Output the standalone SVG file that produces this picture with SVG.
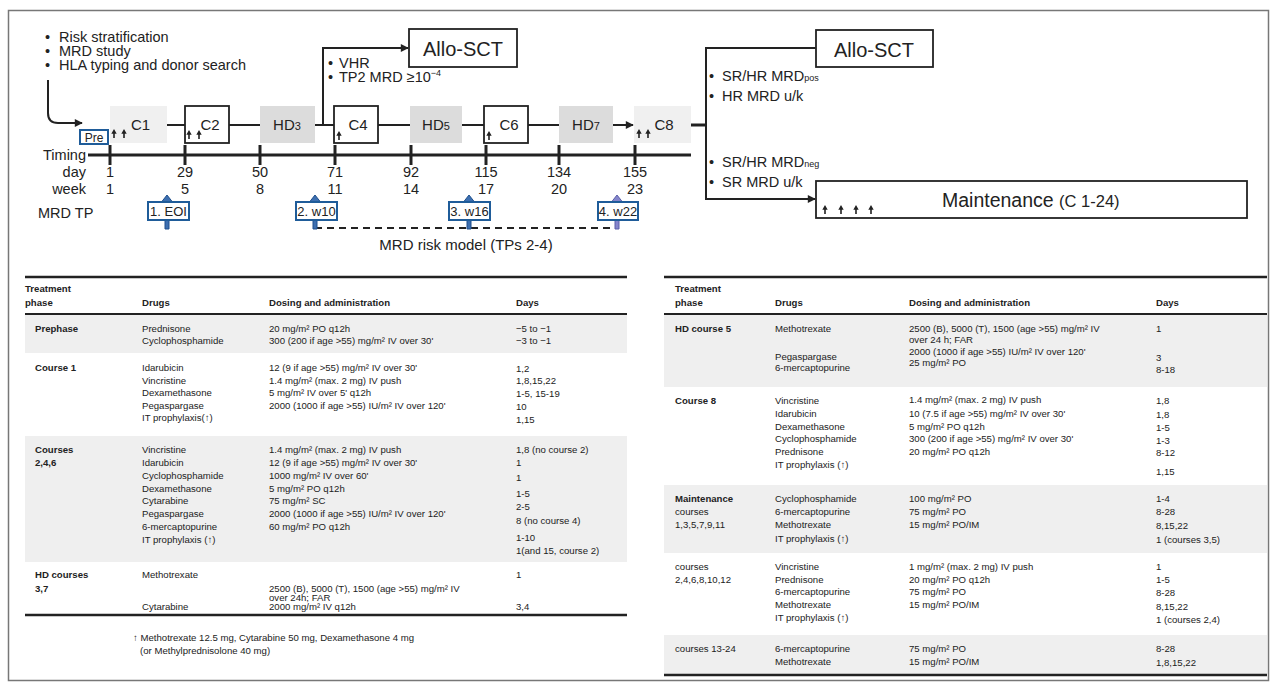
<svg xmlns="http://www.w3.org/2000/svg" xmlns:xlink="http://www.w3.org/1999/xlink" width="1272" height="684" viewBox="0 0 1272 684">
<style>
text{font-family:"Liberation Sans",Arial,sans-serif;fill:#222}
.t{font-size:14.5px}
.lb{font-size:15px}
.sub{font-size:11px}
.mrd{font-size:13px}
.tb{font-size:9.6px}
.tbb{font-size:9.6px;font-weight:bold}
.ln{stroke:#222;stroke-width:2;fill:none}
.thick{stroke:#222;stroke-width:3;fill:none}
.box{fill:#fff;stroke:#222;stroke-width:1.8}
.hd{fill:#dcdcdc}
.lt{fill:#f0f0f0}
.bbox{fill:#fff;stroke:#1f5c99;stroke-width:2}
.rule{stroke:#222;stroke-width:2.5}
.rule2{stroke:#222;stroke-width:2}
.g{fill:#efefef}
.m{text-anchor:middle}
.e{text-anchor:end}
</style>
<defs>
<marker id="ah" viewBox="0 0 10 10" refX="9" refY="5" markerWidth="9" markerHeight="8" markerUnits="userSpaceOnUse" orient="auto">
<path d="M0,0 L10,5 L0,10 Z" fill="#222"/>
</marker>
<path id="ua" d="M0,-9 L-2.7,-4.2 H-0.8 V0 H0.8 V-4.2 H2.7 Z" fill="#222"/>
<path id="ba" d="M-2,0 V-27 H-5.5 L0,-34 L5.5,-27 H2 V0 Z" stroke-width="1"/>
</defs>
<rect x="8.5" y="10.5" width="1260" height="670" fill="none" stroke="#777" stroke-width="1.5"/>

<g id="connectors">
<path class="ln" d="M48,80 V113 Q48,123 58,123 H82" marker-end="url(#ah)"/>
<line class="ln" x1="167" y1="125" x2="185" y2="125"/>
<line class="ln" x1="229" y1="125" x2="260" y2="125"/>
<line class="ln" x1="315" y1="125" x2="334" y2="125"/>
<path class="ln" d="M323,125 V48 H408" marker-end="url(#ah)"/>
<line class="ln" x1="378" y1="125" x2="410" y2="125"/>
<line class="ln" x1="462" y1="125" x2="484" y2="125"/>
<line class="ln" x1="528" y1="125" x2="559" y2="125"/>
<line class="ln" x1="613" y1="125" x2="633" y2="125" marker-end="url(#ah)"/>
<line class="thick" x1="691" y1="125" x2="706" y2="125"/>
<path class="ln" d="M815,48 H706 V199 H815" marker-start="url(#ah)" marker-end="url(#ah)"/>
<line class="thick" x1="88" y1="155" x2="691" y2="155"/>
<g class="thick">
<line x1="110" y1="145" x2="110" y2="165"/>
<line x1="185" y1="145" x2="185" y2="165"/>
<line x1="260" y1="145" x2="260" y2="165"/>
<line x1="335" y1="145" x2="335" y2="165"/>
<line x1="411" y1="145" x2="411" y2="165"/>
<line x1="486" y1="145" x2="486" y2="165"/>
<line x1="559" y1="145" x2="559" y2="165"/>
<line x1="635" y1="145" x2="635" y2="165"/>
</g>
<line x1="315" y1="228" x2="617" y2="228" stroke="#222" stroke-width="2" stroke-dasharray="7,5"/>
<use xlink:href="#ba" x="167" y="229" fill="#3d6fb0" stroke="#1e4f8c"/>
<use xlink:href="#ba" x="315" y="229" fill="#3d6fb0" stroke="#1e4f8c"/>
<use xlink:href="#ba" x="469" y="229" fill="#3d6fb0" stroke="#1e4f8c"/>
<use xlink:href="#ba" x="617" y="229" fill="#8585cc" stroke="#5b5fa8"/>
</g>

<g id="intro">
<text class="t" x="45" y="42">•</text><text class="t" x="59" y="42">Risk stratification</text>
<text class="t" x="45" y="56">•</text><text class="t" x="59" y="56">MRD study</text>
<text class="t" x="45" y="70">•</text><text class="t" x="59" y="70">HLA typing and donor search</text>
</g>
<g id="pre"><rect class="bbox" x="80" y="130" width="28" height="14"/><text x="94" y="141.5" class="m" font-size="12">Pre</text></g>
<g id="c1"><rect class="lt" x="110" y="106" width="57" height="37"/><text class="lb" x="131" y="130">C1</text><use xlink:href="#ua" x="114" y="138"/><use xlink:href="#ua" x="124" y="138"/></g>
<g id="c2"><rect class="box" x="185" y="106" width="44" height="37"/><text class="lb m" x="210" y="130">C2</text><use xlink:href="#ua" x="189" y="139"/><use xlink:href="#ua" x="199" y="139"/></g>
<g id="hd3"><rect class="hd" x="260" y="106" width="55" height="37"/><text class="lb m" x="287" y="130">HD<tspan class="sub">3</tspan></text></g>
<g id="c4"><rect class="box" x="334" y="106" width="44" height="37"/><text class="lb m" x="358" y="130">C4</text><use xlink:href="#ua" x="339" y="140"/></g>
<g id="hd5"><rect class="hd" x="410" y="106" width="52" height="37"/><text class="lb m" x="436" y="130">HD<tspan class="sub">5</tspan></text></g>
<g id="c6"><rect class="box" x="484" y="106" width="44" height="37"/><text class="lb m" x="509" y="130">C6</text><use xlink:href="#ua" x="489" y="140"/></g>
<g id="hd7"><rect class="hd" x="559" y="106" width="54" height="37"/><text class="lb m" x="586" y="130">HD<tspan class="sub">7</tspan></text></g>
<g id="c8"><rect class="lt" x="634" y="106" width="57" height="37"/><text class="lb m" x="664" y="130">C8</text><use xlink:href="#ua" x="639" y="138"/><use xlink:href="#ua" x="648" y="138"/></g>

<g id="allo1"><rect class="box" x="409" y="29" width="108" height="38"/><text class="m" x="463" y="55.5" font-size="20">Allo-SCT</text></g>
<g id="vhr">
<text class="t" x="328" y="68">•</text><text class="t" x="339" y="68">VHR</text>
<text class="t" x="328" y="82">•</text><text class="t" x="339" y="82">TP2 MRD ≥10<tspan font-size="9" dy="-6">−4</tspan></text>
</g>
<g id="allo2"><rect class="box" x="816" y="30" width="117" height="37"/><text class="m" x="874" y="56.5" font-size="20">Allo-SCT</text></g>
<g id="pos">
<text class="t" x="709" y="81">•</text><text class="t" x="722" y="81">SR/HR MRD<tspan font-size="9">pos</tspan></text>
<text class="t" x="709" y="101">•</text><text class="t" x="722" y="101">HR MRD u/k</text>
</g>
<g id="neg">
<text class="t" x="709" y="167">•</text><text class="t" x="722" y="167">SR/HR MRD<tspan font-size="9">neg</tspan></text>
<text class="t" x="709" y="187">•</text><text class="t" x="722" y="187">SR MRD u/k</text>
</g>
<g id="maint"><rect class="box" x="816" y="181" width="431" height="37"/>
<text x="942" y="207" font-size="19.5">Maintenance <tspan font-size="16.5">(C 1-24)</tspan></text>
<use xlink:href="#ua" x="825" y="214"/><use xlink:href="#ua" x="841" y="214"/><use xlink:href="#ua" x="856" y="214"/><use xlink:href="#ua" x="871" y="214"/>
</g>

<g id="timeline">
<text class="t e" x="86" y="160">Timing</text>
<text class="t e" x="86" y="177">day</text>
<text class="t e" x="86" y="194">week</text>
<g class="t m">
<text x="110" y="177">1</text><text x="185" y="177">29</text><text x="260" y="177">50</text><text x="335" y="177">71</text><text x="411" y="177">92</text><text x="486" y="177">115</text><text x="559" y="177">134</text><text x="635" y="177">155</text>
<text x="110" y="194">1</text><text x="185" y="194">5</text><text x="260" y="194">8</text><text x="335" y="194">11</text><text x="411" y="194">14</text><text x="486" y="194">17</text><text x="559" y="194">20</text><text x="635" y="194">23</text>
</g>
<text class="t" x="38" y="218">MRD TP</text>
</g>
<g id="tp1"><rect class="bbox" x="148" y="202" width="41" height="18"/><text class="mrd m" x="168.5" y="215.5">1. EOI</text></g>
<g id="tp2"><rect class="bbox" x="296" y="202" width="41" height="18"/><text class="mrd m" x="316.5" y="215.5">2. w10</text></g>
<g id="tp3"><rect class="bbox" x="449" y="202" width="41" height="18"/><text class="mrd m" x="469.5" y="215.5">3. w16</text></g>
<g id="tp4"><rect class="bbox" x="598" y="202" width="40" height="18"/><text class="mrd m" x="618" y="215.5">4. w22</text></g>
<text class="m" x="466" y="250" font-size="15">MRD risk model (TPs 2-4)</text>

<g id="table-left">
<rect class="g" x="25" y="314" width="602" height="39"/>
<rect class="g" x="25" y="436" width="602" height="126"/>
<line class="rule" x1="25" y1="277" x2="627" y2="277"/>
<line class="rule2" x1="25" y1="314" x2="627" y2="314"/>
<line class="rule" x1="25" y1="615" x2="627" y2="615"/>
<text class="tbb" x="25" y="291.5">Treatment</text>
<text class="tbb" x="25" y="305.5">phase</text>
<text class="tbb" x="142" y="305.5">Drugs</text>
<text class="tbb" x="269" y="305.5">Dosing and administration</text>
<text class="tbb" x="516" y="305.5">Days</text>

<text class="tbb" x="35" y="332">Prephase</text>
<text class="tb" x="142" y="332">Prednisone</text>
<text class="tb" x="142" y="344">Cyclophosphamide</text>
<text class="tb" x="269" y="332">20 mg/m² PO q12h</text>
<text class="tb" x="269" y="344">300 (200 if age &gt;55) mg/m² IV over 30'</text>
<text class="tb" x="516" y="332">−5 to −1</text>
<text class="tb" x="516" y="343.5">−3 to −1</text>

<text class="tbb" x="35" y="371">Course 1</text>
<text class="tb" x="142" y="371">Idarubicin</text>
<text class="tb" x="142" y="383.5">Vincristine</text>
<text class="tb" x="142" y="396">Dexamethasone</text>
<text class="tb" x="142" y="408.5">Pegaspargase</text>
<text class="tb" x="142" y="421">IT prophylaxis(<tspan font-weight="bold">↑</tspan>)</text>
<text class="tb" x="269" y="371">12 (9 if age &gt;55) mg/m² IV over 30'</text>
<text class="tb" x="269" y="383.5">1.4 mg/m² (max. 2 mg) IV push</text>
<text class="tb" x="269" y="396">5 mg/m² IV over 5' q12h</text>
<text class="tb" x="269" y="408.5">2000 (1000 if age &gt;55) IU/m² IV over 120'</text>
<text class="tb" x="516" y="371.5">1,2</text>
<text class="tb" x="516" y="384">1,8,15,22</text>
<text class="tb" x="516" y="396.5">1-5, 15-19</text>
<text class="tb" x="516" y="409.5">10</text>
<text class="tb" x="516" y="423">1,15</text>

<text class="tbb" x="35" y="452.5">Courses</text>
<text class="tbb" x="35" y="465.5">2,4,6</text>
<text class="tb" x="142" y="452.5">Vincristine</text>
<text class="tb" x="142" y="465.5">Idarubicin</text>
<text class="tb" x="142" y="478.5">Cyclophosphamide</text>
<text class="tb" x="142" y="491.5">Dexamethasone</text>
<text class="tb" x="142" y="503.5">Cytarabine</text>
<text class="tb" x="142" y="516.5">Pegaspargase</text>
<text class="tb" x="142" y="529.5">6-mercaptopurine</text>
<text class="tb" x="142" y="542.5">IT prophylaxis (<tspan font-weight="bold">↑</tspan>)</text>
<text class="tb" x="269" y="452.5">1.4 mg/m² (max. 2 mg) IV push</text>
<text class="tb" x="269" y="465.5">12 (9 if age &gt;55) mg/m² IV over 30'</text>
<text class="tb" x="269" y="478.5">1000 mg/m² IV over 60'</text>
<text class="tb" x="269" y="491.5">5 mg/m² PO q12h</text>
<text class="tb" x="269" y="503.5">75 mg/m² SC</text>
<text class="tb" x="269" y="516.5">2000 (1000 if age &gt;55) IU/m² IV over 120'</text>
<text class="tb" x="269" y="529.5">60 mg/m² PO q12h</text>
<text class="tb" x="516" y="452.5">1,8 (no course 2)</text>
<text class="tb" x="516" y="465.5">1</text>
<text class="tb" x="516" y="480.5">1</text>
<text class="tb" x="516" y="496.5">1-5</text>
<text class="tb" x="516" y="509.5">2-5</text>
<text class="tb" x="516" y="523.5">8 (no course 4)</text>
<text class="tb" x="516" y="540.5">1-10</text>
<text class="tb" x="516" y="553.5">1(and 15, course 2)</text>

<text class="tbb" x="35" y="577.5">HD courses</text>
<text class="tbb" x="35" y="591.5">3,7</text>
<text class="tb" x="142" y="577.5">Methotrexate</text>
<text class="tb" x="142" y="609.5">Cytarabine</text>
<text class="tb" x="269" y="591.5">2500 (B), 5000 (T), 1500 (age &gt;55) mg/m² IV</text>
<text class="tb" x="269" y="600.5">over 24h; FAR</text>
<text class="tb" x="269" y="609.5">2000 mg/m² IV q12h</text>
<text class="tb" x="516" y="578">1</text>
<text class="tb" x="516" y="609.5">3,4</text>

<text class="tb" x="133" y="640.5"><tspan font-weight="bold">↑</tspan> Methotrexate 12.5 mg, Cytarabine 50 mg, Dexamethasone 4 mg</text>
<text class="tb" x="140" y="653.5">(or Methylprednisolone 40 mg)</text>
</g>

<g id="table-right">
<rect class="g" x="664" y="314" width="603" height="73"/>
<rect class="g" x="664" y="485" width="603" height="68"/>
<rect class="g" x="664" y="635" width="603" height="39"/>
<line class="rule" x1="664" y1="277" x2="1267" y2="277"/>
<line class="rule2" x1="664" y1="314" x2="1267" y2="314"/>
<line class="rule" x1="664" y1="675" x2="1267" y2="675"/>
<text class="tbb" x="675" y="291.5">Treatment</text>
<text class="tbb" x="675" y="305.5">phase</text>
<text class="tbb" x="775" y="305.5">Drugs</text>
<text class="tbb" x="909" y="305.5">Dosing and administration</text>
<text class="tbb" x="1156" y="305.5">Days</text>

<text class="tbb" x="675" y="332">HD course 5</text>
<text class="tb" x="775" y="332">Methotrexate</text>
<text class="tb" x="775" y="359.5">Pegaspargase</text>
<text class="tb" x="775" y="370.5">6-mercaptopurine</text>
<text class="tb" x="909" y="332">2500 (B), 5000 (T), 1500 (age &gt;55) mg/m² IV</text>
<text class="tb" x="909" y="342.5">over 24 h; FAR</text>
<text class="tb" x="909" y="354.5">2000 (1000 if age &gt;55) IU/m² IV over 120'</text>
<text class="tb" x="909" y="365.5">25 mg/m² PO</text>
<text class="tb" x="1156" y="332">1</text>
<text class="tb" x="1156" y="360.5">3</text>
<text class="tb" x="1156" y="372.5">8-18</text>

<text class="tbb" x="675" y="404">Course 8</text>
<text class="tb" x="775" y="404">Vincristine</text>
<text class="tb" x="775" y="417">Idarubicin</text>
<text class="tb" x="775" y="429.5">Dexamethasone</text>
<text class="tb" x="775" y="442">Cyclophosphamide</text>
<text class="tb" x="775" y="454.5">Prednisone</text>
<text class="tb" x="775" y="468">IT prophylaxis (<tspan font-weight="bold">↑</tspan>)</text>
<text class="tb" x="909" y="403">1.4 mg/m² (max. 2 mg) IV push</text>
<text class="tb" x="909" y="417">10 (7.5 if age &gt;55) mg/m² IV over 30'</text>
<text class="tb" x="909" y="429.5">5 mg/m² PO q12h</text>
<text class="tb" x="909" y="442">300 (200 if age &gt;55) mg/m² IV over 30'</text>
<text class="tb" x="909" y="455">20 mg/m² PO q12h</text>
<text class="tb" x="1156" y="403.5">1,8</text>
<text class="tb" x="1156" y="417.5">1,8</text>
<text class="tb" x="1156" y="430.5">1-5</text>
<text class="tb" x="1156" y="443.5">1-3</text>
<text class="tb" x="1156" y="455.5">8-12</text>
<text class="tb" x="1156" y="475">1,15</text>

<text class="tbb" x="675" y="501.5">Maintenance</text>
<text class="tb" x="675" y="514.5">courses</text>
<text class="tb" x="675" y="527.5">1,3,5,7,9,11</text>
<text class="tb" x="775" y="501.5">Cyclophosphamide</text>
<text class="tb" x="775" y="514.5">6-mercaptopurine</text>
<text class="tb" x="775" y="527.5">Methotrexate</text>
<text class="tb" x="775" y="541.5">IT prophylaxis (<tspan font-weight="bold">↑</tspan>)</text>
<text class="tb" x="909" y="501.5">100 mg/m² PO</text>
<text class="tb" x="909" y="514.5">75 mg/m² PO</text>
<text class="tb" x="909" y="527.5">15 mg/m² PO/IM</text>
<text class="tb" x="1156" y="501.5">1-4</text>
<text class="tb" x="1156" y="514.5">8-28</text>
<text class="tb" x="1156" y="528.5">8,15,22</text>
<text class="tb" x="1156" y="542.5">1 (courses 3,5)</text>

<text class="tb" x="675" y="569.5">courses</text>
<text class="tb" x="675" y="582.5">2,4,6,8,10,12</text>
<text class="tb" x="775" y="569.5">Vincristine</text>
<text class="tb" x="775" y="582.5">Prednisone</text>
<text class="tb" x="775" y="594.5">6-mercaptopurine</text>
<text class="tb" x="775" y="607.5">Methotrexate</text>
<text class="tb" x="775" y="620.5">IT prophylaxis (<tspan font-weight="bold">↑</tspan>)</text>
<text class="tb" x="909" y="569.5">1 mg/m² (max. 2 mg) IV push</text>
<text class="tb" x="909" y="582.5">20 mg/m² PO q12h</text>
<text class="tb" x="909" y="594.5">75 mg/m² PO</text>
<text class="tb" x="909" y="607.5">15 mg/m² PO/IM</text>
<text class="tb" x="1156" y="569.5">1</text>
<text class="tb" x="1156" y="582.5">1-5</text>
<text class="tb" x="1156" y="595.5">8-28</text>
<text class="tb" x="1156" y="610">8,15,22</text>
<text class="tb" x="1156" y="622.5">1 (courses 2,4)</text>

<text class="tb" x="675" y="651.5">courses 13-24</text>
<text class="tb" x="775" y="651.5">6-mercaptopurine</text>
<text class="tb" x="775" y="664.5">Methotrexate</text>
<text class="tb" x="909" y="651.5">75 mg/m² PO</text>
<text class="tb" x="909" y="664.5">15 mg/m² PO/IM</text>
<text class="tb" x="1156" y="651.5">8-28</text>
<text class="tb" x="1156" y="666">1,8,15,22</text>
</g>
</svg>
